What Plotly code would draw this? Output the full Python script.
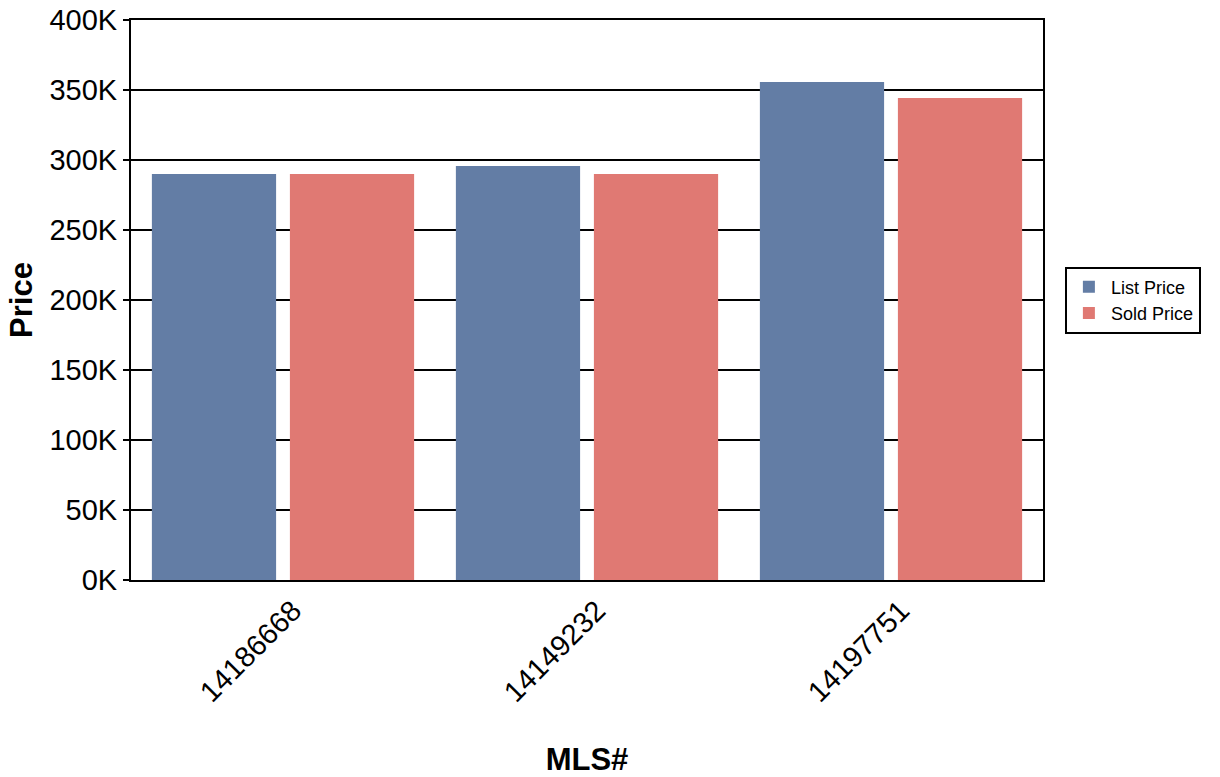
import plotly.graph_objects as go

mls_ids = ["14186668", "14149232", "14197751"]
list_price = [290000, 295800, 355700]
sold_price = [290000, 290000, 344300]

tick_vals = [0, 50000, 100000, 150000, 200000, 250000, 300000, 350000, 400000]
tick_text = ["0K", "50K", "100K", "150K", "200K", "250K", "300K", "350K", "400K"]

font_family = "Liberation Sans, Arial, sans-serif"

fig = go.Figure()
fig.add_trace(go.Bar(x=mls_ids, y=list_price, name="List Price",
                     marker=dict(color="#637DA5", line=dict(width=0))))
fig.add_trace(go.Bar(x=mls_ids, y=sold_price, name="Sold Price",
                     marker=dict(color="#E07973", line=dict(width=0))))

fig.update_layout(
    width=1220, height=777,
    margin=dict(l=131, r=177, t=20, b=197),
    paper_bgcolor="white", plot_bgcolor="white",
    font=dict(family=font_family, color="black"),
    barmode="group", bargap=0.092, bargroupgap=0.1,
    legend=dict(x=1.024, y=0.5, xanchor="left", yanchor="middle",
                bordercolor="black", borderwidth=2, bgcolor="white",
                font=dict(size=18, family=font_family),
                itemwidth=34, entrywidth=145),
    showlegend=True,
)
fig.update_xaxes(
    type="category", tickangle=-45, tickfont=dict(size=29),
    showline=True, linecolor="black", linewidth=2, mirror=True,
    ticks="", showgrid=False, automargin=False, ticklabelshift=10,
    title=dict(text="<b>MLS#</b>", font=dict(size=31), standoff=52),
)
fig.update_yaxes(
    range=[0, 400000], tickvals=tick_vals, ticktext=tick_text,
    tickfont=dict(size=29), automargin=False,
    showline=True, linecolor="black", linewidth=2, mirror=True,
    ticks="outside", ticklen=6, tickcolor="black", tickwidth=2,
    showgrid=True, gridcolor="black", gridwidth=2, zeroline=False,
    title=dict(text="<b>Price</b>", font=dict(size=31), standoff=8),
)

fig.write_html("out.html")
